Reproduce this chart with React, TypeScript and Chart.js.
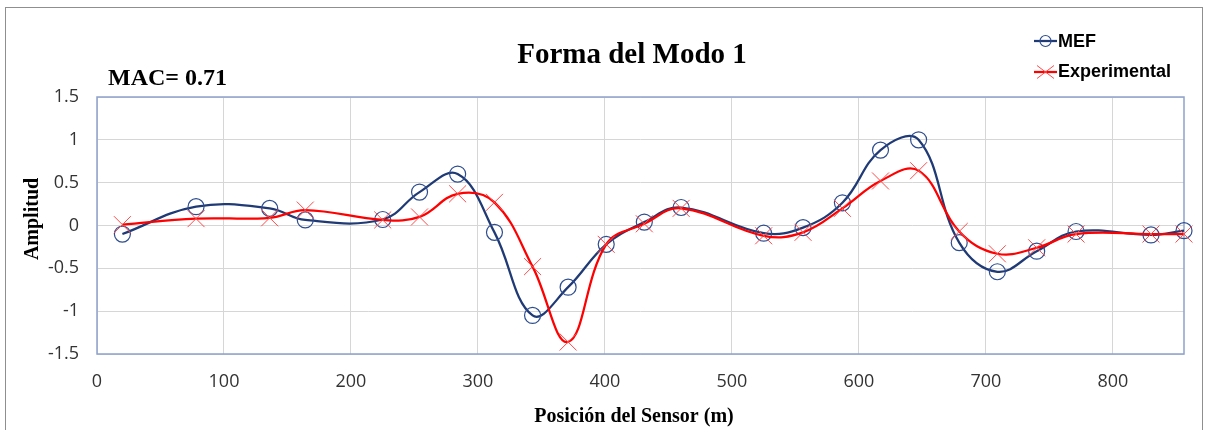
import React, { useEffect, useRef } from "react";
import { Chart, registerables } from "chart.js";

Chart.register(...registerables);

// Sensor positions along the structure (m)
const sensorPos = [20, 78, 136, 164, 225, 254, 284, 313, 343, 371, 401, 431, 460, 525, 556, 587, 617, 647, 679, 709, 740, 771, 830, 856];
// Mode 1 amplitudes: finite element model
const mefValues = [-0.1, 0.22, 0.2, 0.065, 0.07, 0.39, 0.6, -0.08, -1.05, -0.72, -0.22, 0.04, 0.21, -0.09, -0.025, 0.265, 0.88, 1.0, -0.2, -0.54, -0.3, -0.07, -0.11, -0.06];
// Mode 1 amplitudes: measured
const expValues = [0.01, 0.08, 0.09, 0.18, 0.065, 0.1, 0.37, 0.27, -0.48, -1.36, -0.22, 0.02, 0.2, -0.12, -0.08, 0.2, 0.52, 0.64, -0.07, -0.33, -0.26, -0.1, -0.1, -0.1];

const xTicks = [0, 100, 200, 300, 400, 500, 600, 700, 800];
const yTicks = [-1.5, -1, -0.5, 0, 0.5, 1, 1.5];

const seriesNames = ["MEF", "Experimental"];
const chartTitle = "Forma del Modo 1";
const macLabel = "MAC= 0.71";
const xTitle = "Posición del Sensor (m)";
const yTitle = "Amplitud";

const NAVY = "#1f3a75";
const NAVY_MARK = "#2e4d8f";
const RED = "#ff0000";
const RED_MARK = "#ff4a4a";

const decorations = {
  id: "decorations",
  beforeDraw(chart: any) {
    const ctx = chart.ctx;
    ctx.save();
    ctx.fillStyle = "#ffffff";
    ctx.fillRect(0, 0, chart.width, chart.height);
    ctx.strokeStyle = "#8f8f8f";
    ctx.lineWidth = 1;
    ctx.strokeRect(5.5, 7.5, chart.width - 11, chart.height + 20);
    ctx.restore();
  },
  beforeDatasetsDraw(chart: any) {
    const { ctx, chartArea: a } = chart;
    ctx.save();
    ctx.strokeStyle = "#8fa2cc";
    ctx.lineWidth = 1.5;
    ctx.strokeRect(a.left, a.top, a.right - a.left, a.bottom - a.top);
    ctx.restore();
  },
  afterDraw(chart: any) {
    const ctx = chart.ctx;
    ctx.save();
    ctx.fillStyle = "#000000";

    // chart title
    ctx.font = "bold 29px 'Liberation Serif', serif";
    ctx.textAlign = "center";
    ctx.textBaseline = "alphabetic";
    ctx.fillText(chartTitle, 632, 63);

    // MAC value
    ctx.font = "bold 24px 'Liberation Serif', serif";
    ctx.textAlign = "left";
    ctx.fillText(macLabel, 108, 85);

    // axis titles
    ctx.font = "bold 20px 'Liberation Serif', serif";
    ctx.textAlign = "center";
    ctx.fillText(xTitle, 634, 422);
    ctx.save();
    ctx.translate(38, 219);
    ctx.rotate(-Math.PI / 2);
    ctx.fillText(yTitle, 0, 0);
    ctx.restore();

    // legend
    const lx0 = 1034;
    const lx1 = 1057;
    const cx = (lx0 + lx1) / 2;
    const rows = [41, 72];

    ctx.lineWidth = 2.25;
    ctx.strokeStyle = NAVY;
    ctx.beginPath();
    ctx.moveTo(lx0, rows[0]);
    ctx.lineTo(lx1, rows[0]);
    ctx.stroke();
    ctx.lineWidth = 1.2;
    ctx.strokeStyle = NAVY_MARK;
    ctx.beginPath();
    ctx.arc(cx, rows[0], 5.5, 0, Math.PI * 2);
    ctx.stroke();

    ctx.lineWidth = 2.25;
    ctx.strokeStyle = RED;
    ctx.beginPath();
    ctx.moveTo(lx0, rows[1]);
    ctx.lineTo(lx1, rows[1]);
    ctx.stroke();
    ctx.lineWidth = 1;
    ctx.strokeStyle = RED_MARK;
    ctx.beginPath();
    ctx.moveTo(cx - 8.5, rows[1] - 6.5);
    ctx.lineTo(cx + 8.5, rows[1] + 6.5);
    ctx.moveTo(cx - 8.5, rows[1] + 6.5);
    ctx.lineTo(cx + 8.5, rows[1] - 6.5);
    ctx.stroke();

    ctx.font = "bold 18px 'Liberation Sans', sans-serif";
    ctx.textAlign = "left";
    ctx.fillStyle = "#000000";
    ctx.fillText(seriesNames[0], 1058, 47);
    ctx.fillText(seriesNames[1], 1058, 77);

    ctx.restore();
  },
};

export default function App() {
  const canvasRef = useRef<HTMLCanvasElement | null>(null);

  useEffect(() => {
    document.body.style.margin = "0";
    const canvas = canvasRef.current;
    if (!canvas) return;

    const mefPoints = sensorPos.map((x, i) => ({ x, y: mefValues[i] }));
    const expPoints = sensorPos.map((x, i) => ({ x, y: expValues[i] }));

    const chart = new Chart(canvas, {
      type: "scatter",
      data: {
        datasets: [
          {
            label: seriesNames[0],
            data: mefPoints,
            showLine: true,
            borderColor: NAVY,
            borderWidth: 2.25,
            tension: 0.4,
            pointStyle: "circle",
            pointRadius: 8,
            pointBorderWidth: 1.2,
            pointBorderColor: NAVY_MARK,
            pointBackgroundColor: "rgba(0,0,0,0)",
            clip: false,
            order: 1,
          },
          {
            label: seriesNames[1],
            data: expPoints,
            showLine: true,
            borderColor: RED,
            borderWidth: 2.25,
            tension: 0.4,
            pointStyle: "crossRot",
            pointRadius: 12,
            pointBorderWidth: 1,
            pointBorderColor: RED_MARK,
            pointBackgroundColor: RED_MARK,
            clip: false,
            order: 0,
          },
        ],
      },
      options: {
        responsive: false,
        animation: false,
        devicePixelRatio: 1,
        layout: { padding: { top: 97, right: 24, left: 0, bottom: 0 } },
        plugins: {
          legend: { display: false },
          tooltip: { enabled: false },
          title: { display: false },
        },
        scales: {
          x: {
            type: "linear",
            min: 0,
            max: 856,
            afterBuildTicks: (scale: any) => {
              scale.ticks = xTicks.map((v) => ({ value: v }));
            },
            afterFit: (scale: any) => {
              scale.height = 76;
            },
            grid: { color: "#d6d6d6", lineWidth: 1, drawTicks: false },
            border: { display: false },
            ticks: {
              padding: 17,
              color: "#333333",
              font: { family: "'Open Sans', sans-serif", size: 18 },
              callback: (v: any) => String(v),
            },
          },
          y: {
            type: "linear",
            min: -1.5,
            max: 1.5,
            afterBuildTicks: (scale: any) => {
              scale.ticks = yTicks.map((v) => ({ value: v }));
            },
            afterFit: (scale: any) => {
              scale.width = 97;
            },
            grid: { color: "#d6d6d6", lineWidth: 1, drawTicks: false },
            border: { display: false },
            ticks: {
              padding: 18,
              color: "#333333",
              font: { family: "'Open Sans', sans-serif", size: 18 },
              callback: (v: any) => String(v),
            },
          },
        },
      },
      plugins: [decorations],
    });

    return () => chart.destroy();
  }, []);

  return (
    <div style={{ position: "relative", width: 1208, height: 430, overflow: "hidden", background: "#fff" }}>
      <canvas ref={canvasRef} width={1208} height={430} style={{ display: "block", width: 1208, height: 430 }} />
    </div>
  );
}
